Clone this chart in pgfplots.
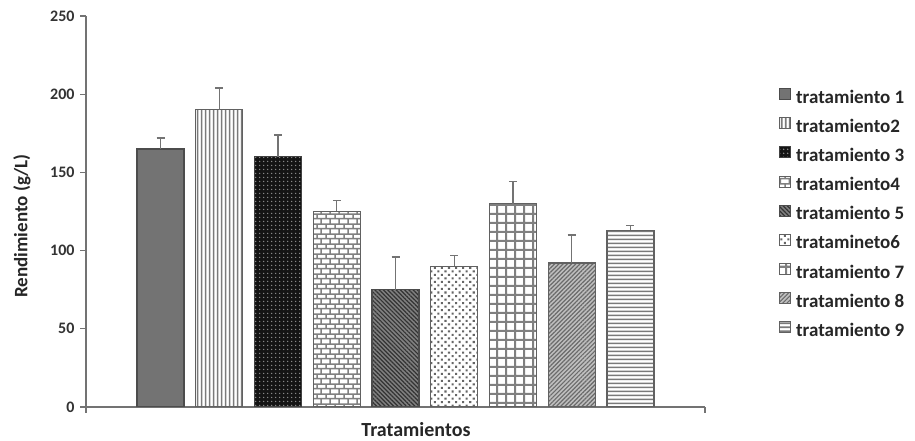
\documentclass[border=0pt]{standalone}
\usepackage{fontspec}
\setmainfont{Carlito}
\usepackage{pgfplots}
\pgfplotsset{compat=1.18}
\usetikzlibrary{patterns,patterns.meta,calc}

\pgfdeclarepattern{
  name=mybricks, type=uncolored,
  bottom left={\pgfpoint{0pt}{0pt}}, top right={\pgfpoint{9pt}{10pt}},
  tile size={\pgfpoint{9pt}{10pt}},
  code={
    \pgfsetlinewidth{1.6pt}
    \pgfpathmoveto{\pgfpoint{-1pt}{2.5pt}}\pgfpathlineto{\pgfpoint{10pt}{2.5pt}}
    \pgfpathmoveto{\pgfpoint{-1pt}{7.5pt}}\pgfpathlineto{\pgfpoint{10pt}{7.5pt}}
    \pgfpathmoveto{\pgfpoint{2.25pt}{2.5pt}}\pgfpathlineto{\pgfpoint{2.25pt}{7.5pt}}
    \pgfpathmoveto{\pgfpoint{6.75pt}{7.5pt}}\pgfpathlineto{\pgfpoint{6.75pt}{11pt}}
    \pgfpathmoveto{\pgfpoint{6.75pt}{-1pt}}\pgfpathlineto{\pgfpoint{6.75pt}{2.5pt}}
    \pgfusepath{stroke}
  }
}
\pgfdeclarepattern{
  name=vlines, type=uncolored,
  bottom left={\pgfpoint{0pt}{0pt}}, top right={\pgfpoint{4pt}{4pt}},
  tile size={\pgfpoint{4pt}{4pt}},
  code={
    \pgfsetlinewidth{1.9pt}
    \pgfpathmoveto{\pgfpoint{2pt}{-1pt}}\pgfpathlineto{\pgfpoint{2pt}{5pt}}
    \pgfusepath{stroke}
  }
}
\pgfdeclarepattern{
  name=hlines, type=uncolored,
  bottom left={\pgfpoint{0pt}{0pt}}, top right={\pgfpoint{4pt}{4pt}},
  tile size={\pgfpoint{4pt}{4pt}},
  code={
    \pgfsetlinewidth{2pt}
    \pgfpathmoveto{\pgfpoint{-1pt}{2pt}}\pgfpathlineto{\pgfpoint{5pt}{2pt}}
    \pgfusepath{stroke}
  }
}
\pgfdeclarepattern{
  name=mygrid, type=uncolored,
  bottom left={\pgfpoint{0pt}{0pt}}, top right={\pgfpoint{8.5pt}{8.5pt}},
  tile size={\pgfpoint{8.5pt}{8.5pt}},
  code={
    \pgfsetlinewidth{2.1pt}
    \pgfpathmoveto{\pgfpoint{-1pt}{4.25pt}}\pgfpathlineto{\pgfpoint{9.5pt}{4.25pt}}
    \pgfpathmoveto{\pgfpoint{4.25pt}{-1pt}}\pgfpathlineto{\pgfpoint{4.25pt}{9.5pt}}
    \pgfusepath{stroke}
  }
}

\begin{document}
\begin{tikzpicture}
\begin{axis}[
  scale only axis,
  width=619pt, height=391pt,
  xmin=-0.27, xmax=10.27,
  ymin=0, ymax=250,
  axis x line*=bottom, axis y line*=left,
  axis line style={draw=black!55, line width=1.3pt},
  xtick={-0.27,10.27}, xticklabels={},
  ytick={0,50,100,150,200,250},
  tick align=outside,
  major tick length=6pt,
  tick style={draw=black!55, line width=1.3pt},
  /pgf/number format/assume math mode=true,
  yticklabel style={font=\bfseries\fontsize{16}{16}\selectfont, text=black!80, xshift=-2pt},
  every axis plot/.append style={ybar, bar width=47pt, bar shift=0pt, line width=1.3pt,
    error bars/y dir=plus, error bars/y explicit,
    error bars/error bar style={line width=1.4pt, draw=black!55},
    error bars/error mark options={rotate=90, mark size=4pt, line width=1.4pt, draw=black!55}},
  legend style={draw=none, fill=none, at={(1.1196,0.8159)}, anchor=north west,
    inner sep=0pt, row sep=10.2pt, column sep=5pt,
    font=\bfseries\fontsize{19}{19}\selectfont, text=black!85,
    nodes={inner sep=0pt, text height=13pt, text depth=4pt}},
  legend cell align=left,
  legend image code/.code={\draw[#1, line width=0.9pt] (0pt,-1pt) rectangle (11pt,10pt);},
]
\addplot[draw=black!70, fill=black!55] coordinates {(1,165) +- (0,7)};
\addplot[draw=black!62, pattern=vlines, pattern color=black!52] coordinates {(2,190) +- (0,14)};
\addplot[draw=black!75, fill=black!92, postaction={pattern={Dots[distance=4pt,radius=0.9pt]}, pattern color=black!42}] coordinates {(3,160) +- (0,14)};
\addplot[draw=black!62, pattern=mybricks, pattern color=black!50] coordinates {(4,125) +- (0,7)};
\addplot[draw=black!70, fill=black!50, postaction={pattern={Lines[angle=-45,distance=3pt,line width=1.2pt]}, pattern color=black!80}] coordinates {(5,75) +- (0,21)};
\addplot[draw=black!62, pattern={Dots[angle=45,distance=5pt,radius=1.45pt]}, pattern color=black!60] coordinates {(6,90) +- (0,7)};
\addplot[draw=black!62, pattern=mygrid, pattern color=black!50] coordinates {(7,130) +- (0,14)};
\addplot[draw=black!62, fill=black!25, postaction={pattern={Lines[angle=45,distance=3pt,line width=1.2pt]}, pattern color=black!58}] coordinates {(8,92) +- (0,18)};
\addplot[draw=black!62, pattern=hlines, pattern color=black!52] coordinates {(9,113) +- (0,3)};
\legend{tratamiento 1, tratamiento2, tratamiento 3, tratamiento4, tratamiento 5, tratamineto6, tratamiento 7, tratamiento 8, tratamiento 9}
\coordinate (O) at (rel axis cs:0,0);
\coordinate (Y) at (rel axis cs:0,0.463);
\coordinate (X) at (rel axis cs:0.533,0);
\end{axis}
\node[rotate=90, font=\bfseries\fontsize{19}{19}\selectfont, text=black!85] at ($(Y)+(-64pt,0)$) {Rendimiento (g/L)};
\node[font=\bfseries\fontsize{20}{20}\selectfont, text=black!85] at ($(X)+(0,-23pt)$) {Tratamientos};
\pgfresetboundingbox
\path[use as bounding box] ($(O)+(-86pt,-34pt)$) rectangle ++(915pt,441pt);
\end{tikzpicture}
\end{document}
